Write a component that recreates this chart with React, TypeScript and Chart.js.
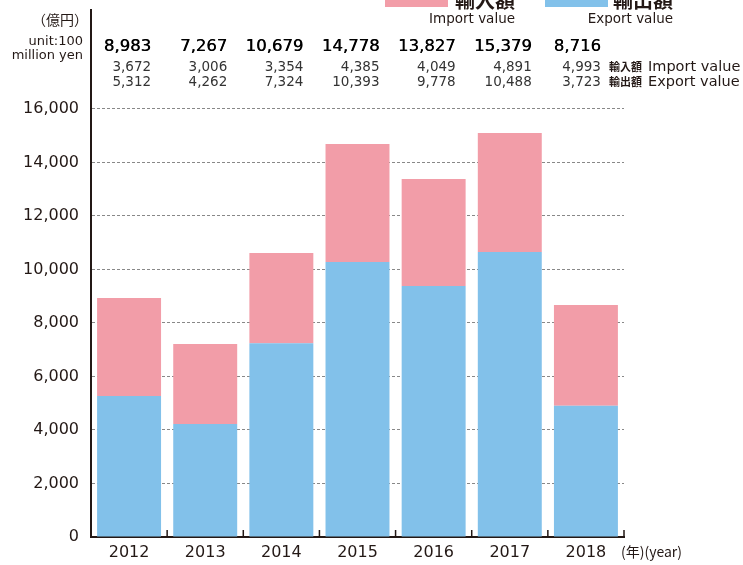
import React, { useEffect, useRef } from 'react';
import { Chart, registerables } from 'chart.js';

Chart.register(...registerables);

const years = ['2012', '2013', '2014', '2015', '2016', '2017', '2018'];
const totalLabels = ['8,983', '7,267', '10,679', '14,778', '13,827', '15,379', '8,716'];
const importLabels = ['3,672', '3,006', '3,354', '4,385', '4,049', '4,891', '4,993'];
const exportLabels = ['5,312', '4,262', '7,324', '10,393', '9,778', '10,488', '3,723'];
// bar heights as drawn in the picture
const exportValues = [5270, 4220, 7240, 10280, 9380, 10650, 4910];
const importValues = [3660, 2990, 3380, 4410, 4000, 4450, 3760];
const yTickValues = [0, 2000, 4000, 6000, 8000, 10000, 12000, 14000, 16000];

const LATIN = "'DejaVu Sans', 'Noto Sans CJK JP', sans-serif";
const CJK = "'Noto Sans CJK JP', sans-serif";
const INK = '#231815';
const PINK = '#F29DA8';
const BLUE = '#82C1EA';

const textPlugin = {
  id: 'texts',
  afterDraw(chart: any) {
    const ctx = chart.ctx as CanvasRenderingContext2D;
    const xs = chart.scales.x;
    const area = chart.chartArea;
    ctx.save();
    ctx.textBaseline = 'middle';

    // unit header
    ctx.fillStyle = INK;
    ctx.textAlign = 'right';
    ctx.font = `14px ${CJK}`;
    ctx.fillText('（億円）', 88, 20);
    ctx.font = `13px ${LATIN}`;
    ctx.fillText('unit:100', 83, 42);
    ctx.fillText('million yen', 83, 56);

    // value rows
    years.forEach((_, i) => {
      const cx = xs.getPixelForValue(i);
      const rx = cx + (i === years.length - 1 ? 15 : 22);
      ctx.textAlign = 'right';
      ctx.fillStyle = '#000';
      ctx.font = `16.5px ${LATIN}`;
      ctx.fillText(totalLabels[i], rx, 47);
      ctx.fillText(totalLabels[i], rx + 0.4, 47);
      ctx.fillStyle = '#333';
      ctx.font = `13.5px ${LATIN}`;
      ctx.fillText(importLabels[i], rx, 67);
      ctx.fillText(exportLabels[i], rx, 82);
    });

    // row labels
    ctx.textAlign = 'left';
    ctx.fillStyle = INK;
    ctx.font = `bold 11px ${CJK}`;
    ctx.fillText('輸入額', 609, 67);
    ctx.fillText('輸出額', 609, 82);
    ctx.font = `14.5px ${LATIN}`;
    ctx.fillText('Import value', 648, 67);
    ctx.fillText('Export value', 648, 82);

    // legend (partly cut off at top)
    ctx.fillStyle = PINK;
    ctx.fillRect(385, -4, 63, 11);
    ctx.fillStyle = BLUE;
    ctx.fillRect(545, -4, 63, 11);
    ctx.fillStyle = INK;
    ctx.textAlign = 'right';
    ctx.font = `bold 20px ${CJK}`;
    ctx.fillText('輸入額', 515, 0);
    ctx.fillText('輸出額', 673, 0);
    ctx.font = `13.5px ${LATIN}`;
    ctx.fillText('Import value', 515, 19);
    ctx.fillText('Export value', 673, 19);

    // x-axis upward ticks at category boundaries
    ctx.strokeStyle = INK;
    ctx.lineWidth = 1.5;
    ctx.beginPath();
    for (let i = 0; i < years.length; i++) {
      const bx = i < years.length - 1
        ? (xs.getPixelForValue(i) + xs.getPixelForValue(i + 1)) / 2
        : area.right;
      ctx.moveTo(bx, area.bottom);
      ctx.lineTo(bx, area.bottom - 7);
    }
    ctx.stroke();

    // year unit
    ctx.textAlign = 'left';
    ctx.fillStyle = INK;
    ctx.font = `14px ${CJK}`;
    ctx.fillText('(年)(year)', 621, 552);

    ctx.restore();
  },
};

export default function App() {
  const ref = useRef<HTMLCanvasElement>(null);
  useEffect(() => {
    if (!ref.current) return;
    const chart = new Chart(ref.current, {
      type: 'bar',
      data: {
        labels: years,
        datasets: [
          { label: '輸出額 Export value', data: exportValues, backgroundColor: BLUE, borderWidth: 0 },
          { label: '輸入額 Import value', data: importValues, backgroundColor: PINK, borderWidth: 0 },
        ],
      },
      options: {
        responsive: false,
        animation: false,
        layout: { padding: { top: 10, right: 119, left: 0, bottom: 0 } },
        datasets: { bar: { barPercentage: 0.84, categoryPercentage: 1 } },
        plugins: { legend: { display: false }, tooltip: { enabled: false } },
        scales: {
          x: {
            stacked: true,
            grid: { display: false, drawTicks: false },
            border: { display: true, color: INK, width: 2 },
            ticks: { font: { size: 16, family: LATIN }, color: INK, padding: 6 },
            afterFit: (s: any) => { s.height = 28; s.paddingLeft = 0; s.paddingRight = 0; },
          },
          y: {
            stacked: true,
            min: 0,
            max: 19700,
            grid: { color: '#888', lineWidth: 1, drawTicks: false },
            border: { display: true, color: INK, width: 2, dash: [3, 2] },
            ticks: {
              font: { size: 16, family: LATIN },
              color: INK,
              padding: 12,
              callback: (v: any) => Number(v).toLocaleString('en-US'),
            },
            afterBuildTicks: (s: any) => {
              s.ticks = yTickValues.map((v) => ({ value: v }));
            },
            afterFit: (s: any) => { s.width = 91; s.paddingTop = 0; s.paddingBottom = 0; },
          },
        },
      },
      plugins: [textPlugin],
    });
    return () => chart.destroy();
  }, []);
  return (
    <div style={{ position: 'fixed', left: 0, top: 0, width: 743, height: 565, background: '#fff' }}>
      <canvas ref={ref} width={743} height={565} style={{ display: 'block' }} />
    </div>
  );
}
